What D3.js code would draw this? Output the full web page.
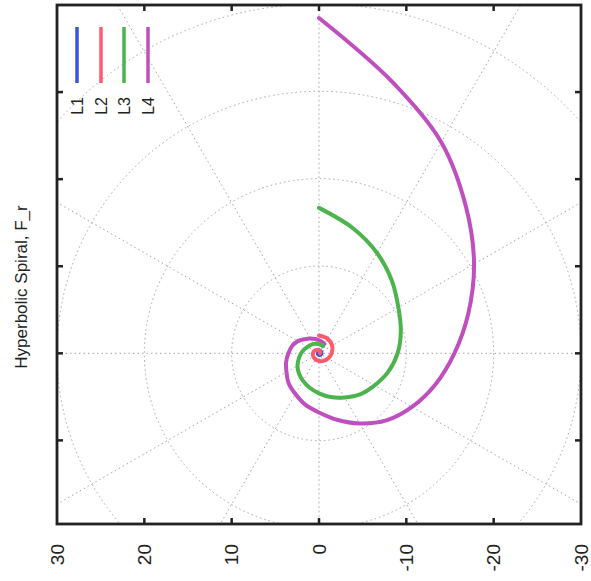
<!DOCTYPE html>
<html>
<head>
<meta charset="utf-8">
<script src="https://cdn.jsdelivr.net/npm/d3@7"></script>
<style>
  html, body { margin: 0; padding: 0; background: #fff; }
  svg { display: block; }
  text { font-family: "Liberation Sans", Arial, sans-serif; fill: #222; }
</style>
</head>
<body>
<svg id="chart" width="591" height="581"></svg>
<script>
// Polar spirals: angle (degrees, clockwise from the top) and radius per series
const seriesNames = ["L1", "L2", "L3", "L4"];
const seriesColors = ["#3a56d6", "#ff5a6e", "#4db34d", "#bf4fbf"];

const angleL1 = [0, 60, 120, 180, 240, 300, 360];
const radiusL1 = [0.35, 0.3, 0.25, 0.2, 0.16, 0.12, 0.09];

const angleL2 = [0, 30, 60, 90, 120, 150, 180, 210, 240, 270, 300, 330, 360, 390, 420, 450];
const radiusL2 = [2.05, 1.95, 1.75, 1.45, 1.2, 1.0, 0.88, 0.8, 0.75, 0.7, 0.6, 0.45, 0.32, 0.22, 0.15, 0.1];

const angleL3 = [0, 15, 30, 45, 60, 75, 90, 105, 120, 135, 150, 165, 180, 195, 210,
                 225, 240, 255, 270, 285, 300, 315, 330, 345, 360, 375, 390];
const radiusL3 = [16.7, 14.9, 13.3, 11.8, 10.5, 9.7, 9.0, 8.2, 7.35, 6.65, 5.85, 5.2, 4.6, 4.1, 3.65,
                  3.25, 2.85, 2.4, 2.05, 1.75, 1.5, 1.35, 1.25, 1.15, 1.05, 1.0, 0.95];

const angleL4 = [0, 15, 30, 45, 60, 75, 90, 105, 120, 135, 150, 165, 180, 195, 210,
                 225, 240, 255, 270, 285, 300, 315, 330, 345, 360, 375, 390];
const radiusL4 = [38.5, 32.3, 28.0, 23.8, 20.5, 17.7, 15.5, 13.8, 12.3, 10.9, 9.3, 7.9, 6.8, 6.1, 5.4,
                  4.9, 4.3, 3.9, 3.5, 3.2, 2.8, 2.3, 1.95, 1.7, 1.5, 1.35, 1.25];

// Axis ticks and grid
const hTicks = [30, 20, 10, 0, -10, -20, -30];
const vTicks = [-10, 0, 10, 20, 30];
const gridRadii = [10, 20, 30, 40];
const gridAngles = [0, 30, 60, 90, 120, 150, 180, 210, 240, 270, 300, 330];

const yLabel = "Hyperbolic Spiral, F_r";

const svg = d3.select("#chart");
const plotLeft = 57, plotRight = 581, plotTop = 5, plotBottom = 524;

const x = d3.scaleLinear().domain([30, -30]).range([plotLeft, plotRight]);
const y = d3.scaleLinear().domain([-19.6, 40]).range([plotBottom, plotTop]);

const toXY = (deg, r) => {
  const a = deg * Math.PI / 180;
  return [-r * Math.sin(a), r * Math.cos(a)];
};

svg.append("defs").append("clipPath").attr("id", "plotClip")
  .append("rect").attr("x", plotLeft).attr("y", plotTop)
  .attr("width", plotRight - plotLeft).attr("height", plotBottom - plotTop);

const plot = svg.append("g").attr("clip-path", "url(#plotClip)");

// grid
const gridStyle = g => g.attr("fill", "none").attr("stroke", "#a2a2b4")
  .attr("stroke-width", 1).attr("stroke-dasharray", "1.5,3");

plot.append("g").call(gridStyle)
  .selectAll("circle").data(gridRadii).join("circle")
  .attr("cx", x(0)).attr("cy", y(0))
  .attr("r", d => x(0) - x(d));

plot.append("g").call(gridStyle)
  .selectAll("line").data(gridAngles).join("line")
  .attr("x1", x(0)).attr("y1", y(0))
  .attr("x2", d => x(toXY(d, 60)[0]))
  .attr("y2", d => y(toXY(d, 60)[1]));

// spirals
const line = d3.line()
  .x(d => x(d[0])).y(d => y(d[1]))
  .curve(d3.curveCatmullRom.alpha(0.5));

const seriesData = [
  { name: "L1", angle: angleL1, radius: radiusL1 },
  { name: "L4", angle: angleL4, radius: radiusL4 },
  { name: "L3", angle: angleL3, radius: radiusL3 },
  { name: "L2", angle: angleL2, radius: radiusL2 }
];

seriesData.forEach(s => {
  const pts = s.angle.map((a, i) => toXY(a, s.radius[i]));
  plot.append("path")
    .datum(pts)
    .attr("d", line)
    .attr("fill", "none")
    .attr("stroke", seriesColors[seriesNames.indexOf(s.name)])
    .attr("stroke-width", 4)
    .attr("stroke-linejoin", "round")
    .attr("stroke-linecap", "round");
});

// frame and ticks
const tickLen = 6;
const axisG = svg.append("g").attr("stroke", "#222").attr("stroke-width", 2.5);
const inner = hTicks.filter(d => Math.abs(d) < 30);
axisG.selectAll("line.tb").data(inner).join("line")
  .attr("x1", d => x(d)).attr("x2", d => x(d))
  .attr("y1", plotBottom).attr("y2", plotBottom - tickLen);
axisG.selectAll("line.tt").data(inner).join("line")
  .attr("x1", d => x(d)).attr("x2", d => x(d))
  .attr("y1", plotTop).attr("y2", plotTop + tickLen);
axisG.selectAll("line.tl").data(vTicks).join("line")
  .attr("y1", d => y(d)).attr("y2", d => y(d))
  .attr("x1", plotLeft).attr("x2", plotLeft + tickLen);
axisG.selectAll("line.tr").data(vTicks).join("line")
  .attr("y1", d => y(d)).attr("y2", d => y(d))
  .attr("x1", plotRight).attr("x2", plotRight - tickLen);

svg.append("rect")
  .attr("x", plotLeft).attr("y", plotTop)
  .attr("width", plotRight - plotLeft).attr("height", plotBottom - plotTop)
  .attr("fill", "none").attr("stroke", "#222").attr("stroke-width", 2.8);

// bottom tick labels, rotated
svg.append("g").selectAll("text").data(hTicks).join("text")
  .attr("transform", d => `translate(${x(d)},544) rotate(-90)`)
  .attr("text-anchor", "end")
  .attr("dy", "0.35em")
  .style("font-size", "19px")
  .text(d => d);

// y label
svg.append("text")
  .attr("transform", "translate(21,287) rotate(-90)")
  .attr("text-anchor", "middle")
  .attr("dy", "0.35em")
  .style("font-size", "17px")
  .text(yLabel);

// legend
const legendX = [77, 101, 124, 148];
const legend = svg.append("g");
seriesNames.forEach((name, i) => {
  legend.append("line")
    .attr("x1", legendX[i]).attr("x2", legendX[i])
    .attr("y1", 27).attr("y2", 83)
    .attr("stroke", seriesColors[i]).attr("stroke-width", 3.5);
  legend.append("text")
    .attr("transform", `translate(${legendX[i]},97) rotate(-90)`)
    .attr("text-anchor", "end")
    .attr("dy", "0.35em")
    .style("font-size", "16px")
    .text(name);
});
</script>
</body>
</html>
